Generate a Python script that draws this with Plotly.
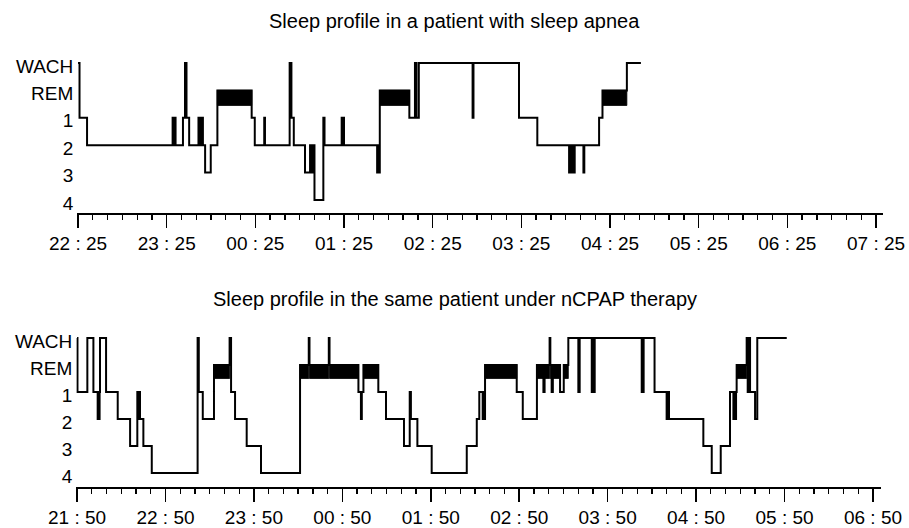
import plotly.graph_objects as go

# ---------------- data ----------------
stage_labels = ["4", "3", "2", "1", "REM", "WACH"]          # bottom -> top
stage_level = {s: i for i, s in enumerate(stage_labels)}

top_title = "Sleep profile in a patient with sleep apnea"
top_tick_minutes = [0, 60, 120, 180, 240, 300, 360, 420, 480, 540]
top_tick_labels = ["22 : 25", "23 : 25", "00 : 25", "01 : 25", "02 : 25",
                   "03 : 25", "04 : 25", "05 : 25", "06 : 25", "07 : 25"]
# minutes after 22:25 at which the stage changes
top_times = [0, 1.0, 6.1, 64.0, 64.7, 65.2, 66.0, 71.0, 72.4, 73.4, 75.2,
             81.5, 82.2, 82.8, 83.5, 84.0, 84.5, 86.0, 89.8, 94.3, 117.5,
             119.6, 126.0, 126.5, 143.2, 144.4, 146.0, 153.6, 157.0, 157.6,
             158.2, 158.8, 159.4, 160.0, 166.0, 166.8, 178.4, 179.0, 179.5,
             180.0, 202.4, 203.0, 203.5, 204.2, 224.2, 228.0, 229.0, 230.6,
             267.0, 267.6, 298.4, 310.8, 332.3, 332.9, 333.4, 334.0, 334.6,
             335.2, 335.6, 336.1, 342.0, 342.6, 352.6, 354.9, 371.4, 380.9]
top_stages = ["WACH", "1", "2", "1", "2", "1", "2", "1", "WACH", "1", "2",
              "1", "2", "1", "2", "1", "2", "3", "2", "REM", "1",
              "2", "1", "2", "WACH", "1", "2", "3", "2", "3",
              "2", "3", "2", "4", "1", "2", "1", "2", "1",
              "2", "3", "2", "3", "REM", "1", "WACH", "1", "WACH",
              "1", "WACH", "1", "2", "3", "2", "3", "2", "3",
              "2", "3", "2", "3", "2", "1", "REM", "WACH", "WACH"]

bottom_title = "Sleep profile in the same patient under nCPAP therapy"
bottom_tick_minutes = [0, 60, 120, 180, 240, 300, 360, 420, 480, 540]
bottom_tick_labels = ["21 : 50", "22 : 50", "23 : 50", "00 : 50", "01 : 50",
                      "02 : 50", "03 : 50", "04 : 50", "05 : 50", "06 : 50"]
# minutes after 21:50 at which the stage changes
bottom_times = [0, 0.3, 7.0, 11.1, 14.0, 14.5, 14.9, 15.3, 15.6, 19.7, 27.6,
                36.0, 40.9, 41.5, 41.9, 42.7, 45.0, 50.7, 81.8, 82.6, 85.3,
                92.9, 103.5, 104.5, 107.2, 115.1, 124.8, 151.3, 157.2, 157.7,
                170.8, 171.3, 190.9, 192.6, 193.2, 194.3, 204.4, 209.6, 221.8,
                225.7, 226.5, 230.9, 240.6, 264.4, 271.2, 272.9, 275.2, 275.8,
                276.3, 276.8, 298.3, 302.4, 312.0, 316.4, 317.2, 320.6, 321.1,
                322.0, 322.8, 327.7, 330.2, 333.3, 340.1, 341.0, 349.2, 349.8,
                350.3, 351.2, 383.1, 384.4, 391.8, 400.0, 400.7, 401.6, 424.9,
                430.6, 436.7, 443.0, 445.3, 445.9, 446.5, 447.1, 447.5, 454.3,
                455.0, 455.8, 456.6, 460.0, 461.5, 481.5]
bottom_stages = ["WACH", "1", "WACH", "1", "2", "1", "2", "1", "WACH", "1", "2",
                 "3", "1", "2", "1", "2", "3", "4", "WACH", "1", "2",
                 "REM", "WACH", "1", "2", "3", "4", "REM", "WACH", "REM",
                 "WACH", "REM", "1", "2", "1", "REM", "1", "2", "3",
                 "1", "2", "3", "4", "3", "2", "1", "2", "1",
                 "2", "REM", "1", "2", "REM", "1", "REM", "WACH", "REM",
                 "1", "REM", "1", "REM", "WACH", "1", "WACH", "1", "WACH",
                 "1", "WACH", "1", "WACH", "1", "2", "1", "2", "3",
                 "4", "3", "1", "2", "1", "2", "1", "REM", "WACH",
                 "1", "WACH", "1", "2", "WACH", "WACH"]

# ---------------- figure ----------------
W, H = 909, 528
FONT = "Liberation Sans, Arial, Helvetica, sans-serif"


def fx(px):
    return px / W


def fy(py):
    return 1 - py / H


def rem_blocks(times, stages, depth):
    xs, ys = [], []
    top = stage_level["REM"]
    for i in range(len(times) - 1):
        if stages[i] == "REM":
            t0, t1 = times[i], times[i + 1]
            xs += [t0, t1, t1, t0, t0, None]
            ys += [top, top, top - depth, top - depth, top, None]
    return xs, ys


fig = go.Figure()

panels = [
    dict(times=top_times, stages=top_stages, depth=0.55, xa="x", ya="y"),
    dict(times=bottom_times, stages=bottom_stages, depth=0.5, xa="x2", ya="y2"),
]
for p in panels:
    bx, by = rem_blocks(p["times"], p["stages"], p["depth"])
    fig.add_trace(go.Scatter(x=bx, y=by, mode="lines", fill="toself",
                             fillcolor="black", line=dict(width=0.8, color="black"),
                             xaxis=p["xa"], yaxis=p["ya"], hoverinfo="skip",
                             showlegend=False))
    fig.add_trace(go.Scatter(x=p["times"], y=[stage_level[s] for s in p["stages"]],
                             mode="lines", line=dict(color="black", width=2, shape="hv"),
                             xaxis=p["xa"], yaxis=p["ya"], showlegend=False))


def xaxis_cfg(domain, rng, tickvals, ticktext, anchor):
    return dict(domain=domain, range=rng, anchor=anchor, automargin=False,
                showgrid=False, zeroline=False,
                showline=True, linecolor="black", linewidth=1.5,
                ticks="outside", ticklen=13, tickwidth=1.5, tickcolor="black",
                tickvals=tickvals, ticktext=ticktext,
                tickfont=dict(family=FONT, size=19, color="black"),
                minor=dict(ticks="outside", ticklen=5, tickwidth=1.3,
                           tickcolor="black", dtick=10, tick0=0, showgrid=False),
                fixedrange=True)


def yaxis_cfg(domain, rng, anchor):
    return dict(domain=domain, range=rng, anchor=anchor, automargin=False,
                showgrid=False, zeroline=False, showline=False,
                tickvals=list(range(len(stage_labels))), ticktext=stage_labels,
                ticks="", ticklabelshift=3, ticklabelstandoff=3,
                tickfont=dict(family=FONT, size=19, color="black"),
                fixedrange=True)


fig.update_layout(
    width=W, height=H,
    margin=dict(l=0, r=0, t=0, b=0, autoexpand=False),
    paper_bgcolor="white", plot_bgcolor="white",
    xaxis=xaxis_cfg([fx(77.3), fx(883.4)], [-0.5, 545], top_tick_minutes,
                    top_tick_labels, "y"),
    yaxis=yaxis_cfg([fy(213), fy(58.9)], [-0.474, 5.15], "x"),
    xaxis2=xaxis_cfg([fx(76.3), fx(881.1)], [-0.5, 545.5], bottom_tick_minutes,
                     bottom_tick_labels, "y2"),
    yaxis2=yaxis_cfg([fy(487), fy(334)], [-0.519, 5.15], "x2"),
    annotations=[
        dict(text=top_title, x=fx(454.5), y=fy(21), xref="paper", yref="paper",
             xanchor="center", yanchor="middle", showarrow=False,
             font=dict(family=FONT, size=20, color="black")),
        dict(text=bottom_title, x=fx(454.5), y=fy(299), xref="paper", yref="paper",
             xanchor="center", yanchor="middle", showarrow=False,
             font=dict(family=FONT, size=20, color="black")),
    ],
)

fig.write_html("out.html",
               config={"displayModeBar": False, "staticPlot": True},
               post_script="document.body.style.margin='0';"
                           "document.body.style.overflow='hidden';")
